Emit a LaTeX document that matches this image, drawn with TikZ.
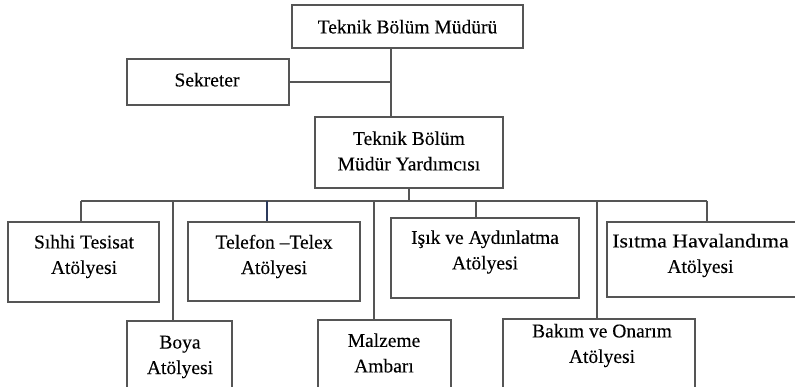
\documentclass[tikz,border=0pt]{standalone}
\usepackage{fontspec}
\usepackage{graphicx}
\setmainfont[FakeBold=0.2]{Liberation Serif}
\definecolor{rule}{HTML}{555555}
\definecolor{navyrule}{HTML}{2C3A5C}
\begin{document}
\begin{tikzpicture}[x=1pt,y=-1pt,
  unit/.style={draw=rule, line width=1.2pt, rectangle, inner sep=0pt},
  caption/.style={align=center, inner sep=0pt,
    font=\fontsize{19.5}{25.5}\selectfont},
  link/.style={draw=rule, line width=1.2pt}]
\useasboundingbox (0,0) rectangle (795,387);
\clip (0,0) rectangle (795,387);

% management
\node[unit, minimum width=231, minimum height=43] (top) at (407.5,26.5) {};
\node[unit, minimum width=162, minimum height=46] (sek) at (208,82) {};
\node[unit, minimum width=188, minimum height=71] (mid) at (409,152.5) {};

% workshops, upper row
\node[unit, minimum width=151, minimum height=80] (sihhi) at (83.5,262) {};
\node[unit, minimum width=172, minimum height=79] (tel) at (274,261.5) {};
\node[unit, minimum width=188, minimum height=80] (isik) at (485,258) {};
\node[unit, minimum width=193, minimum height=75] (isitma) at (703.5,259.5) {};

% workshops, lower row
\node[unit, minimum width=105, minimum height=79] (boya) at (179.5,360.5) {};
\node[unit, minimum width=133, minimum height=80] (malz) at (384.5,360) {};
\node[unit, minimum width=192, minimum height=81] (bakim) at (599,359.5) {};

% captions
\node[caption] (ttop) at (407.5,26.7) {Teknik Bölüm Müdürü};
\node[caption] (tsek) at (207,79.7) {Sekreter};
\node[caption] (tmid) at (409,151) {Teknik Bölüm\\Müdür Yardımcısı};
\node[caption] (tsihhi) at (84,256.5) {Sıhhi Tesisat\\Atölyesi};
\node[caption] (ttel) at (274,256.5) {Telefon –Telex\\Atölyesi};
\node[caption] (tisik) at (485,252) {Işık ve Aydınlatma\\Atölyesi};
\node[caption] (tisitma) at (700.5,255.5) {\scalebox{1.12}[1]{Isıtma Havalandıma}\\Atölyesi};
\node[caption] (tboya) at (180,357) {Boya\\Atölyesi};
\node[caption] (tmalz) at (384,353) {Malzeme\\Ambarı};
\node[caption] (tbakim) at (602,345.5) {Bakım ve Onarım\\Atölyesi};

% connectors
\coordinate (spine) at (391,0);
\coordinate (busL) at (81,201);
\coordinate (busR) at (707,201);
\coordinate (d2) at (173,201);
\coordinate (d3) at (267,201);
\coordinate (d4) at (374,201);
\coordinate (d5) at (476,201);
\coordinate (d6) at (597,201);

\draw[link] (top.south -| spine) -- (mid.north -| spine);
\draw[link] (sek.east) -- (sek.east -| spine);
\draw[link] (mid.south) -- (mid.south |- busL);
\draw[link] (busL) -- (busR);
\draw[link] (busL) -- (busL |- sihhi.north);
\draw[link] (d2) -- (d2 |- boya.north);
\draw[link, draw=navyrule] (d3) -- (d3 |- tel.north);
\draw[link] (d4) -- (d4 |- malz.north);
\draw[link] (d5) -- (d5 |- isik.north);
\draw[link] (d6) -- (d6 |- bakim.north);
\draw[link] (busR) -- (busR |- isitma.north);
\end{tikzpicture}
\end{document}
